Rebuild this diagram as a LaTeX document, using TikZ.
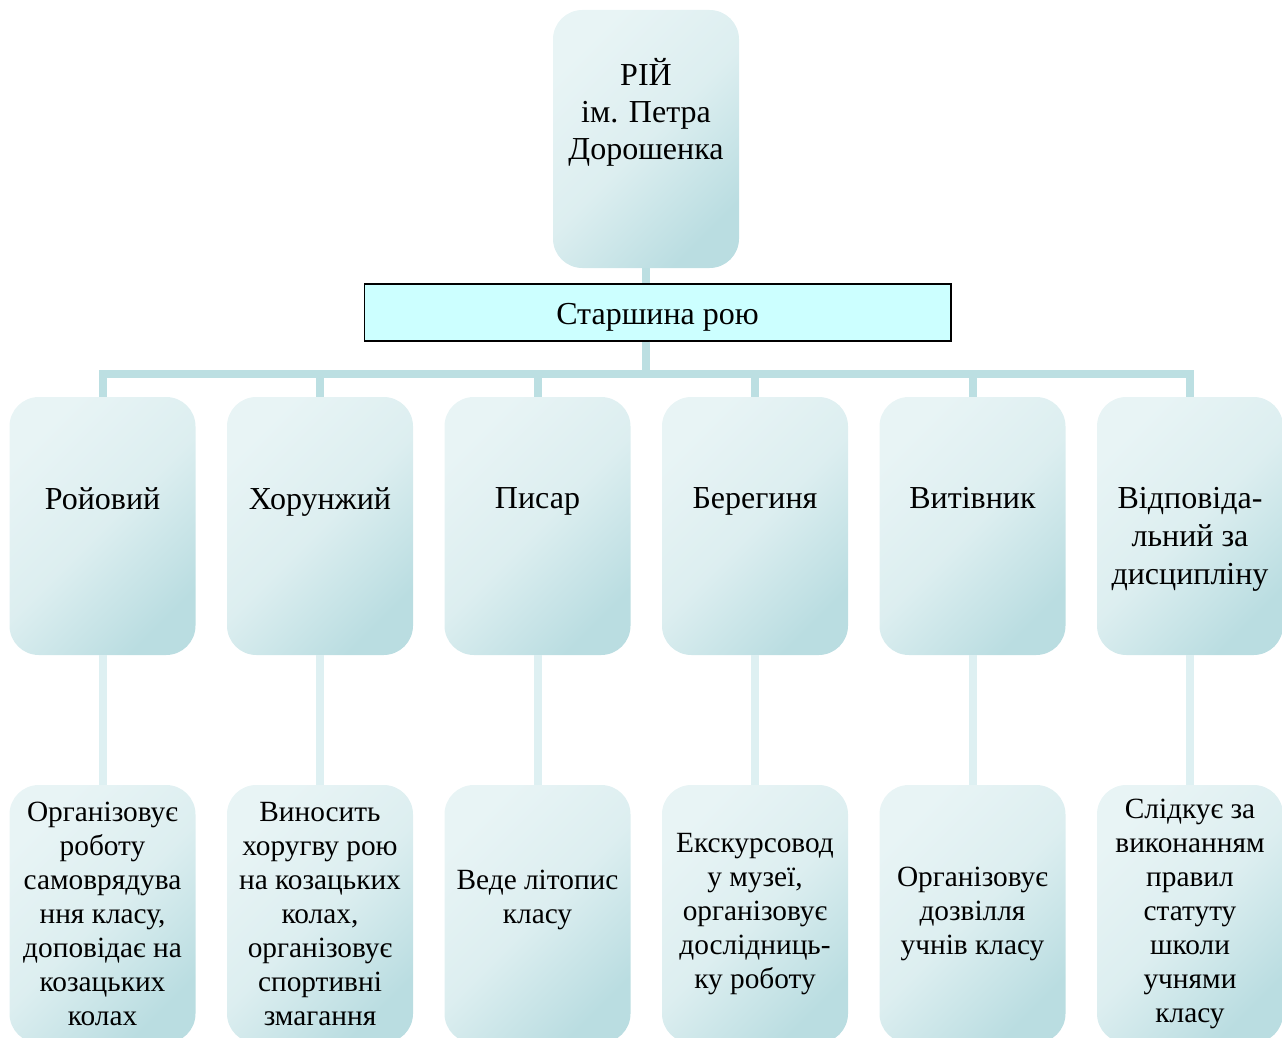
\documentclass[tikz,border=0pt]{standalone}
\usepackage{fontspec}
\setmainfont{Liberation Serif}
\usetikzlibrary{positioning}

\definecolor{boxlight}{RGB}{232,244,245}
\definecolor{boxdark}{RGB}{186,221,225}
\definecolor{linkdark}{RGB}{188,223,226}
\definecolor{linklight}{RGB}{222,240,242}
\definecolor{headfill}{RGB}{204,255,255}

\tikzset{
	unit/.style = {rounded corners=22pt, minimum width=139.5pt, minimum height=193.5pt,
		top color=boxlight, bottom color=boxdark, middle color=boxlight!75!boxdark,
		shading angle=45, inner sep=0pt},
	title/.style = {align=center, inner sep=0pt, font=\fontsize{24}{28.5}\selectfont},
	duty/.style = {unit, align=center, font=\fontsize{22}{25.5}\selectfont},
	head/.style = {draw=black, line width=1pt, fill=headfill, minimum width=440pt,
		minimum height=42.75pt, text height=23.5pt, text depth=5pt,
		font=\fontsize{24}{28.5}\selectfont},
	trunk/.style = {draw=linkdark, line width=6pt},
	twig/.style = {draw=linklight, line width=6pt},
}

\begin{document}
\begin{tikzpicture}[x=0.75pt, y=-0.75pt]
	\useasboundingbox (0,0) rectangle (1282,1038);
	\clip (0,0) rectangle (1282,1038);
	% top of the tree
	\node[unit] (top) at (646,139) {};
	\node[title, font=\fontsize{24}{28}\selectfont, below=36pt of top.north] {РІЙ\\ім. Петра\\Дорошенка};
	\node[head] (chief) at (657.5,312.5) {Старшина рою};
	\coordinate (bus) at (646,374);
	\draw[trunk] (top.south) -- (top.south |- chief.north);
	\draw[trunk] (top.south |- chief.south) -- (bus);
	% roles and duties
	\foreach \x/\role/\task [count=\i] in {
		102.5/{Ройовий}/{Організовує\\роботу\\самоврядува\\ння класу,\\доповідає на\\козацьких\\колах},
		320/{Хорунжий}/{Виносить\\хоругву рою\\на козацьких\\колах,\\організовує\\спортивні\\змагання},
		537.5/{Писар}/{Веде літопис\\класу\\~},
		755/{Берегиня}/{Екскурсовод\\у музеї,\\організовує\\дослідниць-\\ку роботу},
		972.5/{Витівник}/{Організовує\\дозвілля\\учнів класу},
		1190/{Відповіда-\\льний за\\дисципліну}/{Слідкує за\\виконанням\\правил\\статуту\\школи\\учнями\\класу}}{
		\node[unit] (m\i) at (\x,526) {};
		\node[title, below=68pt of m\i.north] {\role};
		\node[duty] (d\i) at (\x,914) {\task};
		\draw[trunk] (bus) -| (m\i.north);
		\draw[twig] (m\i.south) -- (d\i.north);
	}
\end{tikzpicture}
\end{document}
